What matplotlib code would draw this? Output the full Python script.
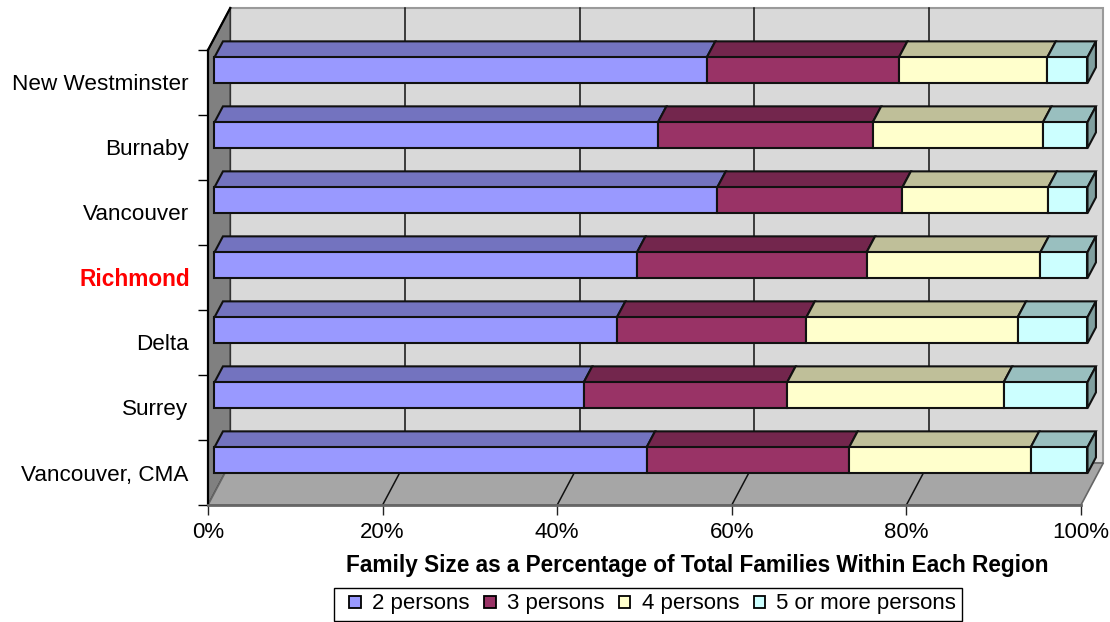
import numpy as np
import matplotlib
matplotlib.use('Agg')
import matplotlib.pyplot as plt
from matplotlib.patches import Patch, Rectangle
from matplotlib.legend_handler import HandlerPatch
from matplotlib.transforms import ScaledTranslation

plt.rcParams['font.family'] = ['Liberation Sans', 'DejaVu Sans']

regions = ['New Westminster', 'Burnaby', 'Vancouver', 'Richmond', 'Delta', 'Surrey', 'Vancouver, CMA']
two_persons = [56.4, 50.8, 57.6, 48.4, 46.1, 42.3, 49.5]
three_persons = [22.0, 24.6, 21.2, 26.3, 21.7, 23.3, 23.2]
four_persons = [17.0, 19.5, 16.7, 19.9, 24.2, 24.8, 20.8]
five_plus = [4.6, 5.1, 4.5, 5.4, 8.0, 9.6, 6.5]
series_names = ['2 persons', '3 persons', '4 persons', '5 or more persons']
colors = ['#9999FF', '#993366', '#FFFFCC', '#CCFFFF']
xticks = [0, 20, 40, 60, 80, 100]

W, H = 1110, 622
fig = plt.figure(figsize=(W / 100, H / 100), dpi=100)
ax = fig.add_axes([208 / W, (H - 505) / H, 873 / W, 455 / H])
n = len(regions)
ax.set_xlim(0, 100)
ax.set_ylim(-0.5, n - 0.5)

# depth of the fake 3d box, in data units
DX = 22.3 / 8.73
DY = 42 / 65
ylow, yhigh = -0.5, n - 0.5


def shade(col, f):
    r, g, b = matplotlib.colors.to_rgb(col)
    return (r * f, g * f, b * f)


def poly(x, y, **kw):
    ax.fill(x, y, clip_on=False, **kw)


# small square sitting at the right end of a wider handle slot
def square_handle(legend, orig_handle, xdescent, ydescent, width, height, fontsize):
    s = 8.5
    return Rectangle((width - s - xdescent, (height - s) / 2 - ydescent), s, s)


# walls and floor
poly([DX, 100 + DX, 100 + DX, DX], [ylow + DY, ylow + DY, yhigh + DY, yhigh + DY],
     facecolor='#D9D9D9', edgecolor='#9A9A9A', lw=1.5, zorder=1)
poly([0, DX, DX, 0], [ylow, ylow + DY, yhigh + DY, yhigh],
     facecolor='#808080', edgecolor='#333333', lw=1.2, zorder=1.2)
poly([0, 100, 100 + DX, DX], [ylow, ylow, ylow + DY, ylow + DY],
     facecolor='#A6A6A6', edgecolor='#666666', lw=1.2, zorder=1.2)
ax.plot([0, DX], [yhigh, yhigh + DY], color='black', lw=1.6, clip_on=False, zorder=1.5)

# gridlines on back wall and floor
for t in xticks[1:-1]:
    ax.plot([t + DX, t + DX], [ylow + DY, yhigh + DY], color='#111111', lw=1.1, clip_on=False, zorder=1.3)
    ax.plot([t, t + DX], [ylow, ylow + DY], color='#111111', lw=1.1, clip_on=False, zorder=1.3)

# bars
d0, d1 = 0.29, 0.67
half = 0.2
ypos = np.arange(n)[::-1]
data = np.array([two_persons, three_persons, four_persons, five_plus])
for i, y in enumerate(ypos):
    left = 0
    for j in range(4):
        right = left + data[j, i]
        x0 = left + d0 * DX
        x1 = right + d0 * DX
        yb = y - half + d0 * DY
        yt = y + half + d0 * DY
        ddx = (d1 - d0) * DX
        ddy = (d1 - d0) * DY
        poly([x0, x1, x1 + ddx, x0 + ddx], [yt, yt, yt + ddy, yt + ddy],
             facecolor=shade(colors[j], 0.75), edgecolor='#111111', lw=1.5, zorder=3)
        if j == 3:
            poly([x1, x1 + ddx, x1 + ddx, x1], [yb, yb + ddy, yt + ddy, yt],
                 facecolor=shade(colors[j], 0.625), edgecolor='#111111', lw=1.5, zorder=3)
        poly([x0, x1, x1, x0], [yb, yb, yt, yt],
             facecolor=colors[j], edgecolor='#111111', lw=1.5, zorder=4)
        left = right

# axes
for s in ['top', 'right']:
    ax.spines[s].set_visible(False)
ax.spines['left'].set_color('black')
ax.spines['left'].set_linewidth(1.6)
ax.spines['bottom'].set_color('#666666')
ax.spines['bottom'].set_linewidth(2)
for s in ax.spines.values():
    s.set_zorder(2)

ax.set_xticks(xticks)
ax.set_xticklabels([f'{t}%' for t in xticks], fontsize=16)
ax.tick_params(axis='x', length=7, width=1, color='#222222', pad=5)

ax.set_yticks(np.arange(n + 1) - 0.5)
ax.set_yticklabels([])
ax.tick_params(axis='y', which='major', length=7, width=1)
ax.set_yticks(ypos, minor=True)
ax.set_yticklabels(regions, minor=True, fontsize=16.2)
ax.tick_params(axis='y', which='minor', length=0, pad=14)
for lab in ax.get_yticklabels(minor=True):
    if lab.get_text() == 'Richmond':
        lab.set_color('#FF0000')
        lab.set_fontweight('bold')
        lab.set_fontsize(16.3)
        lab.set_transform(lab.get_transform() + ScaledTranslation(1.5 / 100, 0, fig.dpi_scale_trans))

ax.set_xlabel('Family Size as a Percentage of Total Families Within Each Region',
              fontsize=16.3, fontweight='bold', labelpad=8, x=0.5605)

handles = [Patch(facecolor=c, edgecolor='black', lw=1.3) for c in colors]
fig.legend(handles, series_names, ncol=4, fontsize=16, loc='center',
           bbox_to_anchor=(648 / W, (H - 604) / H), fancybox=False, framealpha=1,
           edgecolor='black', handlelength=0.95, handleheight=0.55, handletextpad=0.5,
           columnspacing=0.23, borderpad=0.27, borderaxespad=0,
           handler_map={Patch: HandlerPatch(patch_func=square_handle)})

fig.savefig('out.png', dpi=100)
